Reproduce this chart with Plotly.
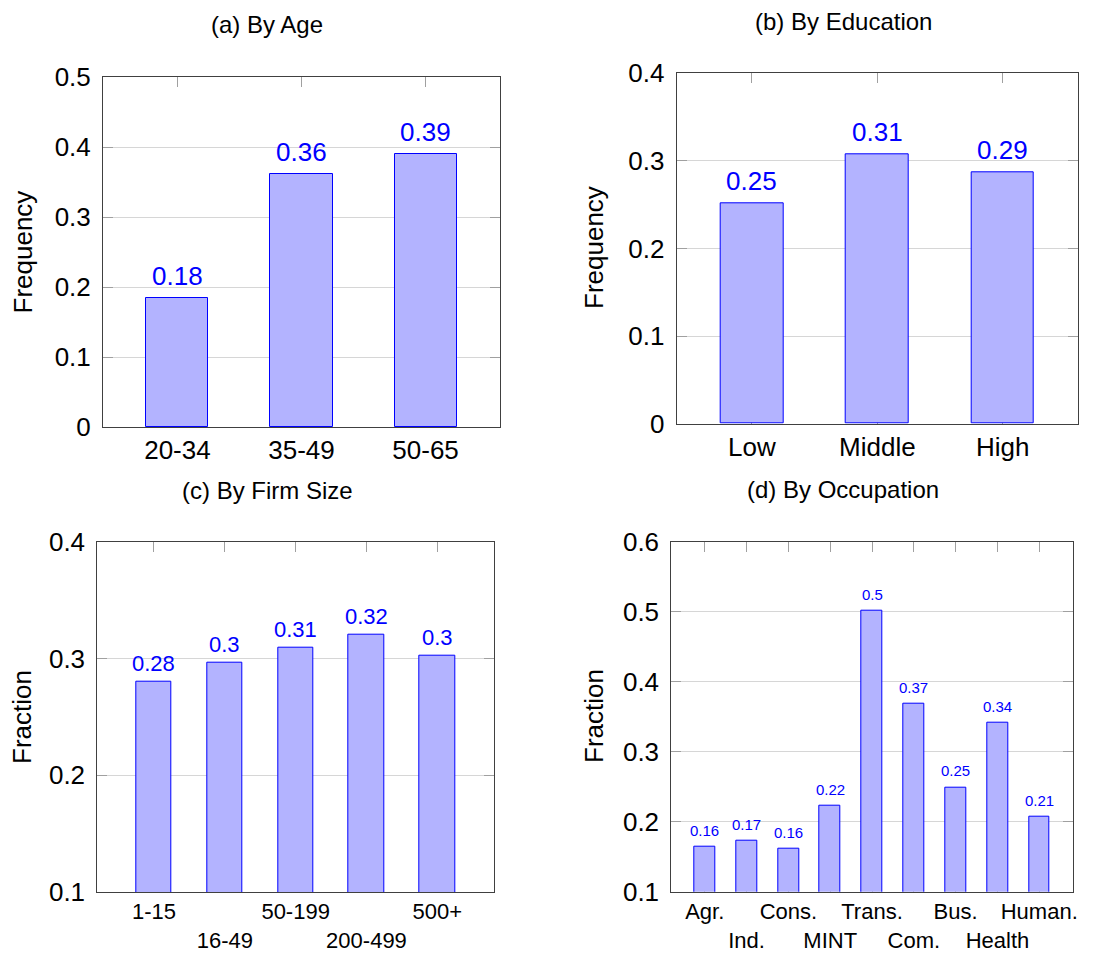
import plotly.graph_objects as go

# ---- data ----
age_cats = ["20-34", "35-49", "50-65"]
age_vals = [0.184, 0.362, 0.390]

edu_cats = ["Low", "Middle", "High"]
edu_vals = [0.252, 0.308, 0.287]

firm_cats = ["1-15", "16-49", "50-199", "200-499", "500+"]
firm_vals = [0.280, 0.296, 0.309, 0.320, 0.302]

occ_cats = ["Agr.", "Ind.", "Cons.", "MINT", "Trans.", "Com.", "Bus.", "Health", "Human."]
occ_vals = [0.164, 0.173, 0.161, 0.223, 0.501, 0.368, 0.249, 0.341, 0.207]

titles = ["(a) By Age", "(b) By Education", "(c) By Firm Size", "(d) By Occupation"]
ytitles = ["Frequency", "Frequency", "Fraction", "Fraction"]

W, H = 1113, 953
FONT = "Liberation Sans"
BAR_FILL = "#b3b3ff"
BAR_EDGE = "#0000ff"
FRAME = "#404040"


def px_x(p):
    return p / W


def px_y(p):
    return 1 - p / H


def label(v):
    return f"{round(v, 2):g}"


def staggered(cats):
    # every second tick label drops onto a second row
    return [c if i % 2 == 0 else "<br>" + c for i, c in enumerate(cats)]


panels = [
    dict(cats=age_cats, vals=age_vals, ticktext=age_cats, xr=[-0.6, 2.6], yr=[0, 0.5],
         xdom=(103, 500), ydom=(77, 427), xfs=26, lfs=26, lshift=5,
         title_xy=(267, 24), ytitle_xy=(22.5, 252)),
    dict(cats=edu_cats, vals=edu_vals, ticktext=edu_cats, xr=[-0.6, 2.6], yr=[0, 0.4],
         xdom=(676.7, 1078), ydom=(73.3, 423.7), xfs=26, lfs=26, lshift=5,
         title_xy=(843, 21), ytitle_xy=(594, 248)),
    dict(cats=firm_cats, vals=firm_vals, ticktext=staggered(firm_cats), xr=[-0.8, 4.8], yr=[0.1, 0.4],
         xdom=(97.3, 494), ydom=(541.7, 892), xfs=22, lfs=22, lshift=4,
         title_xy=(267, 490), ytitle_xy=(22, 717)),
    dict(cats=occ_cats, vals=occ_vals, ticktext=staggered(occ_cats), xr=[-0.8, 8.8], yr=[0.1, 0.6],
         xdom=(671.3, 1072.7), ydom=(541.7, 891.7), xfs=22, lfs=15, lshift=6,
         title_xy=(843, 489), ytitle_xy=(594, 716)),
]

fig = go.Figure()
annotations = []

for i, p in enumerate(panels, start=1):
    sfx = "" if i == 1 else str(i)
    xs = list(range(len(p["cats"])))
    fig.add_trace(go.Bar(
        x=xs, y=p["vals"], width=0.5,
        marker=dict(color=BAR_FILL, line=dict(color=BAR_EDGE, width=1)),
        xaxis="x" + sfx, yaxis="y" + sfx, showlegend=False, hoverinfo="skip",
    ))
    for x, v in zip(xs, p["vals"]):
        annotations.append(dict(
            x=x, y=v, xref="x" + sfx, yref="y" + sfx, text=label(v),
            showarrow=False, yanchor="bottom", yshift=p["lshift"],
            font=dict(family=FONT, size=p["lfs"], color=BAR_EDGE),
        ))
    annotations.append(dict(
        x=px_x(p["title_xy"][0]), y=px_y(p["title_xy"][1]), xref="paper", yref="paper",
        text=titles[i - 1], showarrow=False, xanchor="center", yanchor="middle",
        font=dict(family=FONT, size=24, color="black"),
    ))
    annotations.append(dict(
        x=px_x(p["ytitle_xy"][0]), y=px_y(p["ytitle_xy"][1]), xref="paper", yref="paper",
        text=ytitles[i - 1], showarrow=False, textangle=-90, xanchor="center", yanchor="middle",
        font=dict(family=FONT, size=26, color="black"),
    ))
    xdomain = [px_x(p["xdom"][0]), px_x(p["xdom"][1])]
    # category axis: labels at the bottom, tick marks mirrored on the top edge
    # (drawn beneath the bars so the bottom marks stay hidden)
    fig.layout["xaxis" + sfx] = dict(
        domain=xdomain, anchor="y" + sfx,
        range=p["xr"], tickvals=xs, ticktext=p["ticktext"], tickangle=0, automargin=False,
        showgrid=False, zeroline=False, showline=True, linecolor=FRAME, linewidth=1,
        mirror="allticks", ticks="inside", ticklen=10, tickcolor="#a0a0a0", tickwidth=1,
        layer="below traces", tickfont=dict(family=FONT, size=p["xfs"], color="black"),
        fixedrange=True,
    )
    # plain baseline drawn over the bars
    fig.layout["xaxis" + str(i + 4)] = dict(
        domain=xdomain, anchor="y" + sfx, overlaying="x" + sfx, range=p["xr"],
        showgrid=False, zeroline=False, showticklabels=False, ticks="",
        showline=True, linecolor=FRAME, linewidth=1, layer="above traces",
        automargin=False, fixedrange=True,
    )
    fig.layout["yaxis" + sfx] = dict(
        domain=[px_y(p["ydom"][1]), px_y(p["ydom"][0])], anchor="x" + sfx,
        range=p["yr"], dtick=0.1, tick0=0, automargin=False,
        showgrid=True, gridcolor="#d6d6d6", gridwidth=1, zeroline=False,
        showline=True, linecolor=FRAME, linewidth=1,
        mirror="allticks", ticks="inside", ticklen=10, tickcolor="#a0a0a0", tickwidth=1,
        tickfont=dict(family=FONT, size=26, color="black"),
        ticklabelstandoff=6, fixedrange=True,
    )

fig.update_layout(
    width=W, height=H, margin=dict(l=0, r=0, t=0, b=0, autoexpand=False),
    paper_bgcolor="white", plot_bgcolor="white",
    annotations=annotations, bargap=0,
    font=dict(family=FONT, color="black"),
)

fig.write_html("out.html")
